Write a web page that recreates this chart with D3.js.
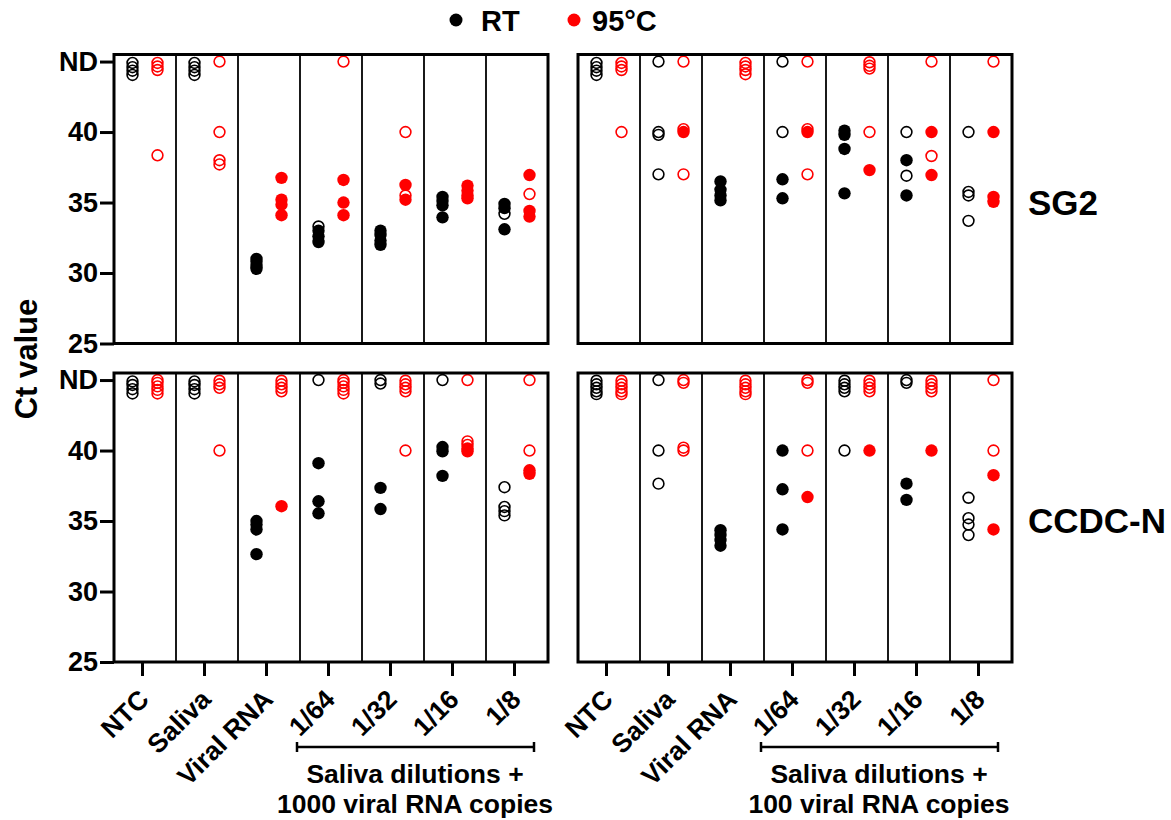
<!DOCTYPE html>
<html>
<head>
<meta charset="utf-8">
<script src="https://cdn.jsdelivr.net/npm/d3@7"></script>
<style>
body { margin: 0; background: #fff; }
svg { display: block; font-family: "Liberation Sans", Arial, sans-serif; font-weight: bold; }
</style>
</head>
<body>
<svg id="chart" width="1171" height="820"></svg>
<script>
var categories = ['NTC', 'Saliva', 'Viral RNA', '1/64', '1/32', '1/16', '1/8'];
var conditions = ['RT', '95°C'];
var conditionColors = ['#000000', '#ff0000'];
var yTicks = [25, 30, 35, 40, 45];
var yTickLabels = ['25', '30', '35', '40', 'ND'];
var rowLabels = ['SG2', 'CCDC-N'];
var groupLabels = [['Saliva dilutions +', '1000 viral RNA copies'], ['Saliva dilutions +', '100 viral RNA copies']];

// one list per category, each point is [Ct, filled] (0 = open circle)
var sg2_1000_rt = [
	[[44.9, 0], [44.6, 0], [44.35, 0], [44.05, 0]],
	[[44.9, 0], [44.6, 0], [44.35, 0], [44.05, 0]],
	[[31.0, 1], [30.8, 1], [30.5, 1], [30.3, 1]],
	[[33.3, 0], [33.0, 1], [32.6, 1], [32.2, 1]],
	[[33.0, 1], [32.7, 1], [32.3, 1], [32.0, 1]],
	[[35.4, 1], [35.1, 1], [34.8, 1], [33.95, 1]],
	[[34.9, 1], [34.6, 1], [34.2, 0], [33.1, 1]]
];
var sg2_1000_95 = [
	[[44.9, 0], [44.65, 0], [44.4, 0], [38.35, 0]],
	[[45, 0], [40, 0], [38.0, 0], [37.7, 0]],
	[[36.75, 1], [35.2, 1], [34.85, 1], [34.1, 1]],
	[[45, 0], [36.6, 1], [35.0, 1], [34.1, 1]],
	[[40, 0], [36.25, 1], [35.5, 0], [35.2, 1]],
	[[36.2, 1], [35.85, 1], [35.5, 1], [35.3, 1]],
	[[36.95, 1], [35.6, 0], [34.4, 1], [34.0, 1]]
];
var sg2_100_rt = [
	[[44.9, 0], [44.6, 0], [44.35, 0], [44.05, 0]],
	[[45, 0], [40.0, 0], [39.8, 0], [37.0, 0]],
	[[36.5, 1], [35.9, 1], [35.5, 1], [35.15, 1]],
	[[45, 0], [40, 0], [36.65, 1], [35.3, 1]],
	[[40.1, 1], [39.8, 1], [38.8, 1], [35.65, 1]],
	[[40, 0], [38.0, 1], [36.9, 0], [35.5, 1]],
	[[40, 0], [35.75, 0], [35.5, 0], [33.7, 0]]
];
var sg2_100_95 = [
	[[44.9, 0], [44.65, 0], [44.4, 0], [40, 0]],
	[[45, 0], [40.2, 0], [40.0, 1], [37.0, 0]],
	[[44.9, 0], [44.65, 0], [44.4, 0], [44.1, 0]],
	[[45, 0], [40.2, 0], [40.0, 1], [37.0, 0]],
	[[44.95, 0], [44.7, 0], [44.5, 0], [40, 0], [37.3, 1]],
	[[45, 0], [40, 1], [38.3, 0], [36.95, 1]],
	[[45, 0], [40, 1], [35.4, 1], [35.05, 1]]
];
var ccdc_1000_rt = [
	[[44.9, 0], [44.65, 0], [44.35, 0], [44.05, 0]],
	[[44.9, 0], [44.65, 0], [44.35, 0], [44.05, 0]],
	[[35.0, 1], [34.75, 1], [34.4, 1], [32.65, 1]],
	[[45, 0], [39.1, 1], [36.4, 1], [35.55, 1]],
	[[45, 0], [44.75, 0], [37.35, 1], [35.85, 1]],
	[[45, 0], [40.25, 1], [39.95, 1], [38.2, 1]],
	[[37.4, 0], [36.0, 0], [35.7, 0], [35.4, 0]]
];
var ccdc_1000_95 = [
	[[45, 0], [44.8, 0], [44.55, 0], [44.3, 0], [44.05, 0]],
	[[44.95, 0], [44.7, 0], [44.45, 0], [40, 0]],
	[[44.95, 0], [44.7, 0], [44.45, 0], [44.2, 0], [36.05, 1]],
	[[45, 0], [44.8, 0], [44.55, 0], [44.3, 0], [44.05, 0]],
	[[44.95, 0], [44.7, 0], [44.45, 0], [44.2, 0], [40, 0]],
	[[45, 0], [40.65, 0], [40.4, 0], [40.15, 1], [39.95, 1]],
	[[45, 0], [40, 0], [38.6, 1], [38.35, 1]]
];
var ccdc_100_rt = [
	[[44.95, 0], [44.7, 0], [44.45, 0], [44.2, 0], [44.0, 0]],
	[[45, 0], [40, 0], [37.65, 0]],
	[[34.35, 1], [34.0, 1], [33.65, 1], [33.25, 1]],
	[[40, 1], [37.25, 1], [34.4, 1]],
	[[44.95, 0], [44.7, 0], [44.45, 0], [44.2, 0], [40, 0]],
	[[45, 0], [44.8, 0], [37.65, 1], [36.5, 1]],
	[[36.65, 0], [35.2, 0], [34.75, 0], [34.0, 0]]
];
var ccdc_100_95 = [
	[[44.95, 0], [44.7, 0], [44.45, 0], [44.2, 0], [44.0, 0]],
	[[45, 0], [44.8, 0], [40.2, 0], [40.0, 0]],
	[[44.95, 0], [44.7, 0], [44.45, 0], [44.2, 0], [44.0, 0]],
	[[45, 0], [44.8, 0], [40, 0], [36.7, 1]],
	[[44.95, 0], [44.7, 0], [44.45, 0], [44.2, 0], [40, 1]],
	[[44.95, 0], [44.7, 0], [44.45, 0], [44.2, 0], [40, 1]],
	[[45, 0], [40, 0], [38.25, 1], [34.4, 1]]
];

var panels = [
	{row: 0, col: 0, series: [sg2_1000_rt, sg2_1000_95]},
	{row: 0, col: 1, series: [sg2_100_rt, sg2_100_95]},
	{row: 1, col: 0, series: [ccdc_1000_rt, ccdc_1000_95]},
	{row: 1, col: 1, series: [ccdc_100_rt, ccdc_100_95]}
];

var panelX = [114, 578];
var panelY = [54.5, 373];
var panelW = 434;
var panelH = 289;
var dotR = 6.2;
var offsets = [-12.5, 12.5];

var svg = d3.select('#chart');

var x = d3.scaleBand()
	.domain(categories)
	.range([0, panelW]);

var y = d3.scaleLinear()
	.domain([25, 45.5])
	.range([panelH, 0]);

panels.forEach(function(p) {
	var g = svg.append('g')
		.attr('transform', 'translate(' + panelX[p.col] + ',' + panelY[p.row] + ')');

	// column separators
	g.selectAll('.sep')
		.data(categories.slice(1))
		.enter().append('line')
		.attr('x1', function(d) { return x(d); })
		.attr('x2', function(d) { return x(d); })
		.attr('y1', 0)
		.attr('y2', panelH)
		.attr('stroke', '#000')
		.attr('stroke-width', 1.8);

	// points
	p.series.forEach(function(list, ci) {
		var pts = [];
		list.forEach(function(vals, k) {
			vals.forEach(function(v) {
				pts.push({cat: categories[k], ct: v[0], filled: v[1]});
			});
		});
		g.append('g').selectAll('circle')
			.data(pts)
			.enter().append('circle')
			.attr('cx', function(d) { return x(d.cat) + x.bandwidth() / 2 + offsets[ci]; })
			.attr('cy', function(d) { return y(d.ct); })
			.attr('r', function(d) { return d.filled ? dotR : dotR - 0.8; })
			.attr('fill', function(d) { return d.filled ? conditionColors[ci] : 'none'; })
			.attr('stroke', function(d) { return d.filled ? 'none' : conditionColors[ci]; })
			.attr('stroke-width', 1.6);
	});

	g.append('rect')
		.attr('width', panelW)
		.attr('height', panelH)
		.attr('fill', 'none')
		.attr('stroke', '#000')
		.attr('stroke-width', 3);

	if (p.col === 0) {
		var yAxis = g.append('g')
			.call(d3.axisLeft(y)
				.tickValues(yTicks)
				.tickFormat(function(d, i) { return yTickLabels[i]; })
				.tickSize(14)
				.tickPadding(2)
				.tickSizeOuter(0));
		yAxis.select('.domain').remove();
		yAxis.selectAll('line').attr('stroke-width', 3);
		yAxis.selectAll('text')
			.attr('fill', '#000')
			.style('font-family', '"Liberation Sans", Arial, sans-serif')
			.style('font-weight', 'bold')
			.style('font-size', '27px');
	}

	if (p.row === 1) {
		var xAxis = g.append('g')
			.attr('transform', 'translate(-2.5,' + panelH + ')')
			.call(d3.axisBottom(x).tickSize(14).tickSizeOuter(0));
		xAxis.select('.domain').remove();
		xAxis.selectAll('line').attr('stroke-width', 3);
		xAxis.selectAll('text')
			.attr('x', 0)
			.attr('y', 0)
			.attr('dy', 0)
			.attr('transform', 'translate(8,39) rotate(-45)')
			.attr('fill', '#000')
			.style('text-anchor', 'end')
			.style('font-family', '"Liberation Sans", Arial, sans-serif')
			.style('font-weight', 'bold')
			.style('font-size', '26.5px');

		// bracket under the dilution columns
		var by = panelH + 85;
		var bx0 = 183, bx1 = 420;
		var br = g.append('g').attr('stroke', '#000').attr('stroke-width', 2.5);
		br.append('line').attr('x1', bx0).attr('x2', bx1).attr('y1', by).attr('y2', by);
		br.append('line').attr('x1', bx0).attr('x2', bx0).attr('y1', by - 5).attr('y2', by + 5);
		br.append('line').attr('x1', bx1).attr('x2', bx1).attr('y1', by - 5).attr('y2', by + 5);

		g.selectAll('.grp')
			.data(groupLabels[p.col])
			.enter().append('text')
			.attr('x', 301)
			.attr('y', function(d, i) { return panelH + 121 + i * 30; })
			.attr('text-anchor', 'middle')
			.style('font-size', '26.5px')
			.text(function(d) { return d; });
	}
});

// row labels
svg.selectAll('.rowlab')
	.data(rowLabels)
	.enter().append('text')
	.attr('x', 1028)
	.attr('y', function(d, i) { return panelY[i] + y(35) + 12; })
	.style('font-size', '35px')
	.text(function(d) { return d; });

// y title
svg.append('text')
	.attr('transform', 'translate(37,359) rotate(-90)')
	.attr('text-anchor', 'middle')
	.style('font-size', '31px')
	.text('Ct value');

// legend
var legendX = [456, 574];
var leg = svg.selectAll('.leg')
	.data(conditions)
	.enter().append('g')
	.attr('transform', function(d, i) { return 'translate(' + legendX[i] + ',20)'; });
leg.append('circle')
	.attr('r', 6.5)
	.attr('fill', function(d, i) { return conditionColors[i]; });
leg.append('text')
	.attr('x', function(d, i) { return i === 0 ? 25 : 18; })
	.attr('y', 11)
	.style('font-size', '29px')
	.text(function(d) { return d; });
</script>
</body>
</html>
